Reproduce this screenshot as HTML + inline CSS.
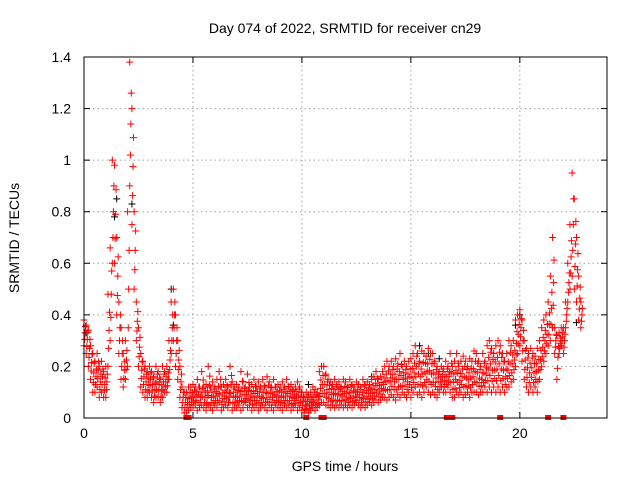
<!DOCTYPE html>
<html><head><meta charset="utf-8"><style>
body{margin:0;background:#fff;}
svg{display:block;font-family:"Liberation Sans",sans-serif;}
</style></head><body>
<svg id="chart" width="640" height="480" viewBox="0 0 640 480" xmlns="http://www.w3.org/2000/svg">
<rect width="640" height="480" fill="#fff"/>
<g id="grid"></g>
<g id="axes"></g>
<g id="marks"></g>
<rect x="84" y="57" width="523" height="361" fill="none" stroke="#000" stroke-width="1"/>
<text x="345" y="33" font-size="14" text-anchor="middle">Day 074 of 2022, SRMTID for receiver cn29</text>
<text x="345" y="471" font-size="14" text-anchor="middle">GPS time / hours</text>
<text x="19" y="238" font-size="14" text-anchor="middle" transform="rotate(-90 19 238)">SRMTID / TECUs</text>
</svg>
<script>
const xTicks=[0,5,10,15,20];
const yTicks=[0,0.2,0.4,0.6,0.8,1,1.2,1.4];
const yTickLabels=["0","0.2","0.4","0.6","0.8","1","1.2","1.4"];
const startHour=0, stepHour=0.1;
const hiVals=[.38,.36,.34,.28,.25,.22,.25,.2,.22,.18,
.2,.48,.66,1.0,.98,.7,.45,.35,.25,.3,
.8,1.38,1.2,.8,.45,.35,.25,.22,.2,.18,
.2,.18,.16,.2,.18,.15,.2,.18,.2,.3,
.45,.5,.4,.3,.2,.12,.1,.1,.12,.12,
.13,.12,.15,.12,.18,.12,.13,.2,.12,.14,
.12,.15,.18,.12,.13,.15,.12,.2,.14,.12,
.13,.12,.18,.14,.12,.17,.12,.13,.15,.12,
.14,.12,.15,.12,.16,.14,.12,.15,.12,.13,
.12,.14,.12,.15,.12,.13,.11,.12,.14,.12,
.1,.08,.1,.09,.1,.12,.11,.1,.18,.2,
.2,.17,.15,.14,.13,.15,.13,.14,.12,.15,
.14,.12,.15,.13,.12,.14,.13,.12,.15,.13,
.14,.13,.15,.16,.18,.15,.16,.18,.2,.22,
.2,.22,.2,.23,.21,.25,.2,.22,.2,.22,
.23,.25,.28,.25,.22,.26,.25,.24,.27,.25,
.25,.22,.2,.18,.2,.19,.22,.2,.25,.2,
.22,.25,.2,.22,.24,.22,.2,.23,.22,.26,
.25,.22,.2,.25,.22,.28,.3,.27,.25,.28,
.3,.28,.25,.22,.25,.3,.28,.3,.38,.4,
.42,.38,.3,.27,.25,.27,.25,.24,.27,.3,
.35,.38,.4,.45,.55,.7,.35,.32,.33,.35,
.35,.45,.6,.75,.95,.85,.7,.55,.45];
const loVals=[.28,.25,.2,.15,.1,.1,.12,.08,.1,.08,
.08,.2,.3,.6,.6,.4,.25,.15,.12,.15,
.2,.9,.75,.5,.3,.2,.12,.1,.08,.08,
.1,.08,.06,.08,.08,.06,.08,.1,.1,.15,
.25,.3,.2,.15,.08,.04,.02,.02,.03,.04,
.04,.05,.03,.04,.05,.04,.03,.05,.04,.03,
.05,.04,.06,.03,.04,.05,.04,.06,.03,.04,
.04,.05,.03,.04,.06,.04,.05,.03,.04,.05,
.03,.04,.05,.04,.03,.05,.04,.03,.05,.04,
.04,.03,.05,.04,.05,.03,.04,.05,.03,.04,
.03,.02,.03,.02,.03,.04,.03,.04,.05,.06,
.06,.05,.05,.04,.05,.04,.05,.04,.05,.04,
.05,.04,.05,.04,.05,.06,.05,.04,.05,.04,
.05,.06,.05,.06,.07,.06,.07,.08,.08,.07,
.08,.09,.08,.07,.09,.08,.1,.09,.08,.1,
.08,.1,.12,.09,.1,.08,.1,.12,.1,.09,
.1,.09,.08,.1,.12,.1,.1,.12,.1,.08,
.08,.1,.09,.1,.08,.09,.1,.08,.1,.1,
.1,.09,.1,.1,.12,.1,.12,.1,.12,.1,
.12,.1,.12,.1,.12,.12,.14,.15,.2,.25,
.28,.22,.15,.12,.1,.12,.1,.12,.1,.15,
.2,.22,.25,.28,.3,.35,.25,.15,.25,.28,
.25,.35,.45,.5,.55,.5,.45,.38,.35];
const blackHours=[0.1,1.4,1.5,2.2,4.0,4.1,10.3,13.2,15.4,15.8,16.3,19.8,20.0,22.6];
const blackVals=[0.33,0.78,0.85,0.83,0.5,0.36,0.13,0.16,0.28,0.25,0.23,0.36,0.4,0.37];
const zeroHours=[4.7,4.8,10.2,10.9,11.0,16.65,16.9,19.1,21.3,22.0];

const NS="http://www.w3.org/2000/svg";
const X0=84,X1=607,Y0=418,Y1=57,XMAX=24,YMAX=1.4;
function xs(h){return X0+(X1-X0)*h/XMAX;}
function ys(v){return Y0-(Y0-Y1)*v/YMAX;}
const grid=document.getElementById('grid'),axes=document.getElementById('axes'),marks=document.getElementById('marks');
function mk(tag,attrs,parent){const e=document.createElementNS(NS,tag);for(const k in attrs)e.setAttribute(k,attrs[k]);parent.appendChild(e);return e;}
xTicks.forEach(t=>{
  const x=xs(t);
  if(t>0){const g=mk('line',{x1:x,y1:Y0,x2:x,y2:Y1,stroke:'#a0a0a0','stroke-dasharray':'1.5,3'},grid);
  
  }
  mk('line',{x1:x,y1:Y0,x2:x,y2:Y0-6,stroke:'#000'},axes);
  mk('line',{x1:x,y1:Y1,x2:x,y2:Y1+6,stroke:'#000'},axes);
  const tx=mk('text',{x:x,y:Y0+20,'font-size':14,'text-anchor':'middle'},axes);tx.textContent=String(t);
  
  
});
yTicks.forEach((t,i)=>{
  const y=ys(t);
  if(t>0&&t<YMAX){const g=mk('line',{x1:X0,y1:y,x2:X1,y2:y,stroke:'#a0a0a0','stroke-dasharray':'1.5,3'},grid);
  
  }
  mk('line',{x1:X0,y1:y,x2:X0+6,y2:y,stroke:'#000'},axes);
  mk('line',{x1:X1,y1:y,x2:X1-6,y2:y,stroke:'#000'},axes);
  const tx=mk('text',{x:X0-13,y:y+5,'font-size':14,'text-anchor':'end'},axes);tx.textContent=yTickLabels[i];
  
  
});
function plus(h,v,color,name){
  const x=xs(h),y=ys(v);
  const p=mk('path',{d:`M${x-3.5},${y}h7M${x},${y-3.5}v7`,stroke:color,'stroke-width':1,fill:'none'},marks);
  
  
}
blackHours.forEach((h,i)=>plus(h,blackVals[i],'#000','black-point'));
hiVals.forEach((v,i)=>{
  const h=startHour+i*stepHour;
  const lo=loVals[i];
  plus(h,v,'#ff0000','red-point');
  plus(h+0.05,(v+lo)/2,'#ff0000','red-point');
  plus(h,lo,'#ff0000','red-point');
  plus(h+0.03,lo+(v-lo)*0.25,'#ff0000','red-point');
  plus(h+0.07,lo+(v-lo)*0.75,'#ff0000','red-point');
});
zeroHours.forEach(h=>{
  const r=mk('rect',{x:xs(h)-3,y:Y0-3,width:6,height:5,fill:'#ff0000'},marks);
  
  
});
</script>
</body></html>
